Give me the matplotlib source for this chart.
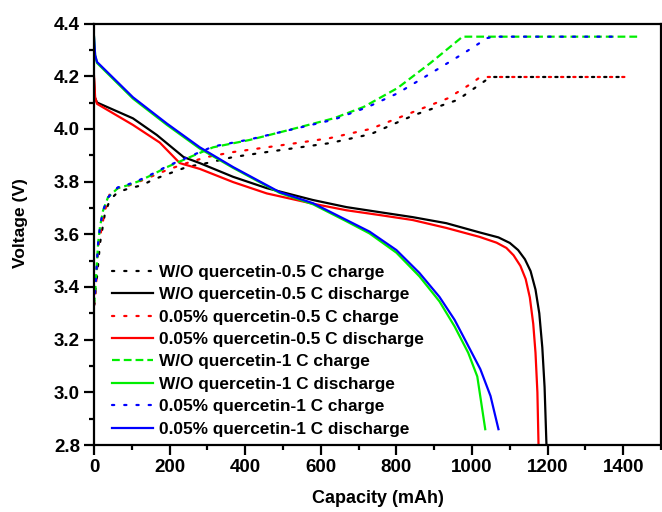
import matplotlib
matplotlib.use("Agg")
import matplotlib.pyplot as plt
from matplotlib.ticker import MultipleLocator, FormatStrFormatter

plt.rcParams['font.family'] = ['Liberation Sans', 'DejaVu Sans']
plt.rcParams['font.weight'] = 'bold'

# W/O quercetin, 0.5 C
cap_wo05_chg = [0, 3, 8, 16, 29, 42, 63, 95, 127, 153, 183, 245, 298, 368, 457, 545, 624, 732, 846, 962, 1022, 1049, 1390]
v_wo05_chg = [3.34, 3.38, 3.44, 3.567, 3.68, 3.73, 3.76, 3.775, 3.786, 3.805, 3.822, 3.855, 3.87, 3.893, 3.912, 3.93, 3.946, 3.98, 4.052, 4.11, 4.17, 4.197, 4.197]
cap_wo05_dis = [0, 2, 8, 103, 166, 237, 280, 368, 457, 579, 668, 755, 843, 932, 1020, 1070, 1100, 1122, 1140, 1155, 1168, 1178, 1186, 1192, 1197]
v_wo05_dis = [4.19, 4.12, 4.10, 4.04, 3.977, 3.893, 3.87, 3.818, 3.775, 3.73, 3.703, 3.684, 3.665, 3.642, 3.607, 3.588, 3.567, 3.54, 3.505, 3.46, 3.39, 3.30, 3.17, 3.02, 2.80]

# 0.05% quercetin, 0.5 C
cap_q05_chg = [0, 3, 11, 21, 29, 42, 63, 87, 130, 193, 245, 298, 368, 457, 545, 624, 732, 846, 936, 996, 1022, 1405]
v_q05_chg = [3.33, 3.34, 3.55, 3.63, 3.69, 3.756, 3.775, 3.782, 3.806, 3.844, 3.87, 3.893, 3.912, 3.93, 3.948, 3.965, 4.0, 4.065, 4.116, 4.17, 4.197, 4.197]
cap_q05_dis = [0, 3, 8, 103, 174, 227, 280, 368, 457, 579, 668, 755, 843, 932, 1020, 1065, 1091, 1110, 1128, 1142, 1153, 1162, 1168, 1173, 1176]
v_q05_dis = [4.2, 4.12, 4.095, 4.015, 3.948, 3.87, 3.848, 3.798, 3.755, 3.716, 3.691, 3.673, 3.654, 3.624, 3.59, 3.568, 3.548, 3.52, 3.48, 3.43, 3.36, 3.26, 3.15, 3.0, 2.80]

# W/O quercetin, 1 C
cap_wo1_chg = [0, 3, 8, 11, 16, 24, 37, 63, 90, 116, 153, 193, 254, 315, 412, 500, 634, 713, 803, 890, 975, 1437]
v_wo1_chg = [3.33, 3.38, 3.50, 3.567, 3.63, 3.69, 3.74, 3.775, 3.786, 3.80, 3.825, 3.855, 3.893, 3.93, 3.958, 3.99, 4.04, 4.083, 4.155, 4.25, 4.35, 4.35]
cap_wo1_dis = [0, 3, 8, 103, 193, 280, 368, 491, 579, 668, 729, 800, 861, 914, 954, 990, 1014, 1035]
v_wo1_dis = [4.35, 4.28, 4.25, 4.115, 4.015, 3.925, 3.852, 3.757, 3.714, 3.649, 3.603, 3.530, 3.440, 3.345, 3.250, 3.15, 3.06, 2.86]

# 0.05% quercetin, 1 C
cap_q1_chg = [0, 3, 8, 11, 16, 24, 37, 63, 90, 116, 153, 193, 254, 315, 412, 500, 634, 724, 803, 890, 978, 1041, 1060, 1387]
v_q1_chg = [3.33, 3.38, 3.50, 3.567, 3.63, 3.69, 3.74, 3.778, 3.789, 3.803, 3.828, 3.858, 3.896, 3.933, 3.96, 3.99, 4.035, 4.083, 4.135, 4.21, 4.287, 4.345, 4.35, 4.35]
cap_q1_dis = [0, 3, 8, 103, 193, 280, 368, 491, 579, 668, 729, 800, 861, 914, 954, 985, 1022, 1049, 1070]
v_q1_dis = [4.35, 4.28, 4.254, 4.12, 4.02, 3.93, 3.855, 3.76, 3.718, 3.654, 3.61, 3.54, 3.453, 3.362, 3.275, 3.19, 3.088, 2.986, 2.86]

dot = (0, (1, 4.5))
dash = (0, (3.5, 1.8))

fig = plt.figure(figsize=(6.62, 5.12), dpi=100)
ax = fig.add_axes([94 / 662, 1 - 445 / 512, 567 / 662, 421.5 / 512])

ax.plot(cap_wo05_chg, v_wo05_chg, color='black', lw=1.6, ls=dot, dash_capstyle='round',
        label='W/O quercetin-0.5 C charge')
ax.plot(cap_wo05_dis, v_wo05_dis, color='black', lw=1.6, label='W/O quercetin-0.5 C discharge')
ax.plot(cap_q05_chg, v_q05_chg, color='#ff0000', lw=1.6, ls=dot, dash_capstyle='round',
        label='0.05% quercetin-0.5 C charge')
ax.plot(cap_q05_dis, v_q05_dis, color='#ff0000', lw=1.6, label='0.05% quercetin-0.5 C discharge')
ax.plot(cap_wo1_chg, v_wo1_chg, color='#00ee00', lw=1.6, ls=dash,
        label='W/O quercetin-1 C charge')
ax.plot(cap_wo1_dis, v_wo1_dis, color='#00ee00', lw=1.6, label='W/O quercetin-1 C discharge')
ax.plot(cap_q1_chg, v_q1_chg, color='#0000ff', lw=1.6, ls=dot, dash_capstyle='round',
        label='0.05% quercetin-1 C charge')
ax.plot(cap_q1_dis, v_q1_dis, color='#0000ff', lw=1.6, label='0.05% quercetin-1 C discharge')

ax.set_xlim(0, 1500)
ax.set_ylim(2.8, 4.4)
ax.xaxis.set_major_locator(MultipleLocator(200))
ax.xaxis.set_minor_locator(MultipleLocator(100))
ax.yaxis.set_major_locator(MultipleLocator(0.2))
ax.yaxis.set_minor_locator(MultipleLocator(0.1))
ax.yaxis.set_major_formatter(FormatStrFormatter('%.1f'))

for s in ax.spines.values():
    s.set_linewidth(1.6)
ax.tick_params(which='major', direction='out', length=7, width=1.6, pad=3, labelsize=13.5)
ax.tick_params(which='minor', direction='out', length=3.5, width=1.6)

ax.set_xlabel('Capacity (mAh)', fontsize=13, fontweight='bold')
ax.set_ylabel('Voltage (V)', fontsize=12.5, fontweight='bold')
ax.xaxis.set_label_coords(0.5, -0.106)
ax.yaxis.set_label_coords(-0.116, 0.527)

leg = ax.legend(loc='upper left', bbox_to_anchor=(0.032, 0.428), frameon=False,
                fontsize=12.4, handlelength=2.4, handletextpad=0.3,
                labelspacing=0.43, borderpad=0, borderaxespad=0)
for t in leg.get_texts():
    t.set_fontweight('bold')

fig.savefig('out.png', dpi=100)
